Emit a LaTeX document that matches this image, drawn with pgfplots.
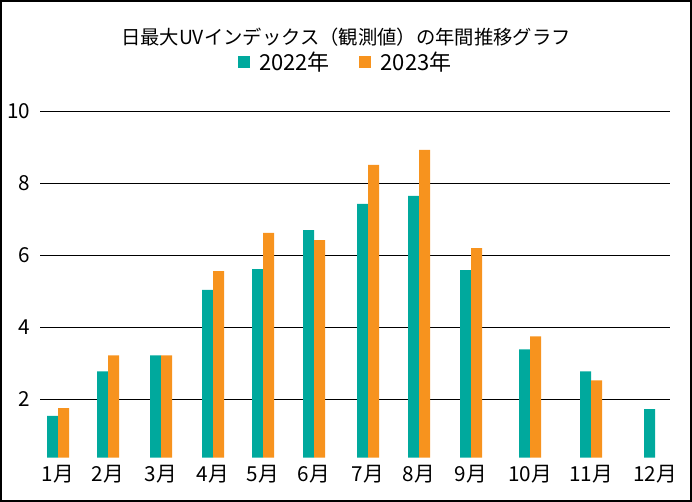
\documentclass[border=0pt]{standalone}
\usepackage{fontspec}
\setmainfont{Noto Sans CJK JP}
\usepackage{pgfplots}
\pgfplotsset{compat=1.18}
\definecolor{cteal}{RGB}{0,169,157}
\definecolor{corange}{RGB}{247,147,30}
\begin{document}
\begin{tikzpicture}[x=0.75pt,y=0.75pt]
\useasboundingbox (-40,-44.3) rectangle (652,457.7);
\draw[line width=1.5pt] (-39,-43.3) rectangle (651,456.7);
\node[font=\fontsize{14.5}{17}\selectfont] at (306,420.7) {日最大UVインデックス（観測値）の年間推移グラフ};
\begin{axis}[
  scale only axis, width=472.5pt, height=259.8pt,
  xmin=40, xmax=670, ymin=0.38, ymax=10,
  axis line style={draw=none},
  tick style={draw=none},
  ybar=0pt, bar width=8.25pt,
  xtick={58,108,161,213,263,314,368,419,471,530,591,655},
  xticklabels={1月,2月,3月,4月,5月,6月,7月,8月,9月,10月,11月,12月},
  ytick={2,4,6,8,10},
  ymajorgrids, grid style={black, line width=0.8pt},
  major tick length=0pt,
  tick label style={font=\fontsize{15.5}{18}\selectfont},
  /pgf/number format/assume math mode=true,
  yticklabel style={xshift=-4pt},
  xticklabel style={yshift=-2pt},
  legend columns=2,
  legend style={draw=none, at={(0.4857,1.142)}, anchor=center,
    font=\fontsize{16.5}{18}\selectfont, /tikz/every even column/.append style={column sep=20pt}},
  legend image code/.code={\fill[#1] (0pt,-4.5pt) rectangle (9pt,4.5pt); \path (14pt,0pt);},
]
\addplot[fill=cteal, draw=none] coordinates {(58,1.54) (108,2.78) (161,3.22) (213,5.04) (263,5.62) (314,6.70) (368,7.43) (419,7.65) (471,5.59) (530,3.39) (591,2.78) (655,1.73)};
\addplot[fill=corange, draw=none] coordinates {(58,1.76) (108,3.22) (161,3.22) (213,5.56) (263,6.62) (314,6.42) (368,8.51) (419,8.93) (471,6.20) (530,3.75) (591,2.53)};
\legend{2022年,2023年}
\end{axis}
\end{tikzpicture}
\end{document}
